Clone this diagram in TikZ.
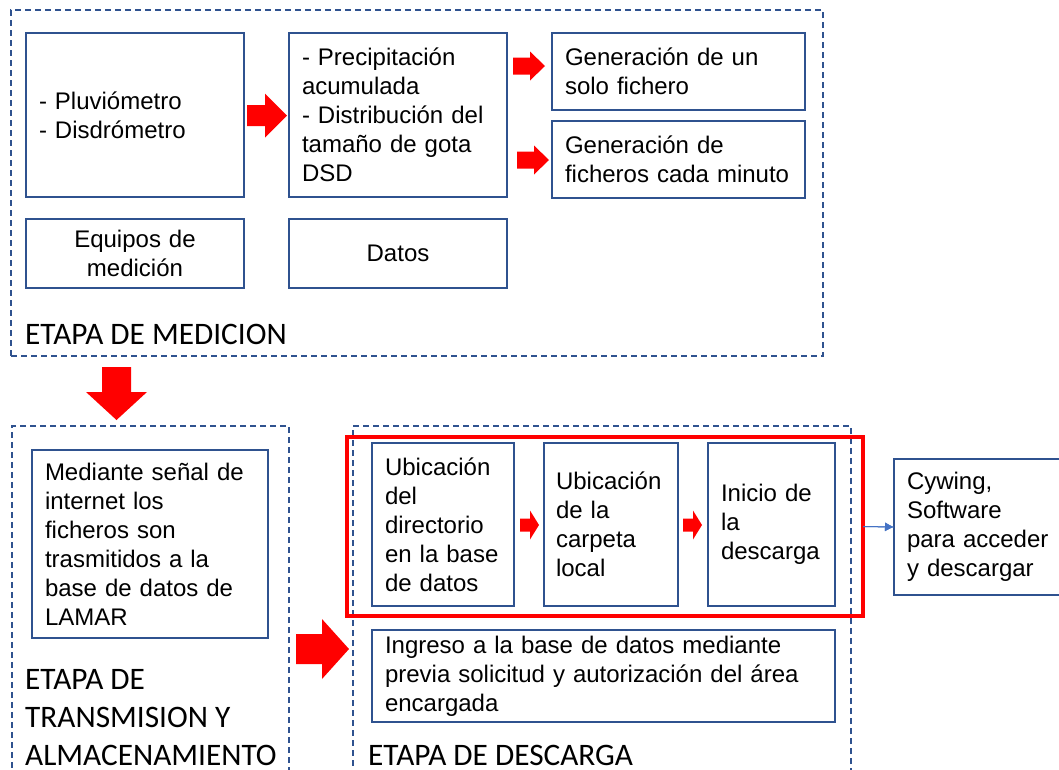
\documentclass[tikz,border=0pt]{standalone}
\usepackage{fontspec}
\setmainfont{Liberation Sans}
\newfontfamily\etapafont{Carlito}
\usepackage{tikz}
\usetikzlibrary{positioning,arrows,arrows.meta}
\definecolor{azulcaja}{HTML}{2F528F}
\definecolor{azulflecha}{HTML}{4472C4}
% flecha de bloque: opciones, largo cuerpo, largo punta, medio ancho cuerpo, medio ancho punta
\newcommand{\flecha}[5]{\fill[roja,#1] (0,-#4) -- (#2,-#4) -- (#2,-#5) -- (#2+#3,0) -- (#2,#5) -- (#2,#4) -- (0,#4) -- cycle;}

\begin{document}
\begin{tikzpicture}[
	x=1pt,y=-1pt,
	caja/.style={
		draw=azulcaja,
		line width=1.5pt,
		anchor=north west,
		inner xsep=13pt,
		inner ysep=0pt,
		outer sep=0pt,
		align=left,
		font=\fontsize{24}{29}\selectfont
	},
	etapa/.style={
		draw=azulcaja,
		line width=1.3pt,
		dash pattern=on 6pt off 4pt,
		anchor=north west,
		inner sep=0pt,
		outer sep=0pt
	},
	titulo/.style={
		anchor=base west,
		inner sep=0pt,
		align=left,
		font=\etapafont\fontsize{31.3}{38}\selectfont
	},
	marco/.style={
		draw=red,
		line width=4pt,
		anchor=north west,
		inner sep=0pt,
		outer sep=0pt
	},
	roja/.style={fill=red},
	>=latex
	]
	\useasboundingbox (0,0) rectangle (1059,769);
	% etapas
	\node[etapa, minimum width=812, minimum height=346] (medicion) at (11,10) {};
	\node[etapa, minimum width=277, minimum height=400] (transmision) at (12,426) {};
	\node[etapa, minimum width=498, minimum height=400] (descarga) at (353,426) {};
	\node[marco, minimum width=516, minimum height=179] (rojo) at (347,437) {};
	\node[titulo] (tmedicion) at (25,344) {ETAPA DE MEDICION};
	\node[titulo] (ttransmision) at (25,765) {ETAPA DE\\TRANSMISION Y\\ALMACENAMIENTO};
	\node[titulo] (tdescarga) at (368,765) {ETAPA DE DESCARGA};
	% etapa de medicion
	\node[caja, minimum width=218, minimum height=164, text width=192] (equipos) at (26,33) {- Pluviómetro\\- Disdrómetro};
	\node[caja, minimum width=218, minimum height=164, text width=192] (datos) at (289,33) {- Precipitación\\acumulada\\- Distribución del\\tamaño de gota\\DSD};
	\node[caja, minimum width=253, minimum height=77, text width=227] (unfichero) at (552,33) {Generación de un\\solo fichero};
	\node[caja, minimum width=253, minimum height=77, text width=227] (cadaminuto) at (552,121) {Generación de\\ficheros cada minuto};
	\node[caja, minimum width=218, minimum height=69, text width=192, align=center] (tequipos) at (26,219) {Equipos de\\medición};
	\node[caja, minimum width=218, minimum height=69, text width=192, align=center] (tdatos) at (289,219) {Datos};
	% etapa de transmision
	\node[caja, minimum width=236, minimum height=188, text width=210] (senal) at (32,450) {Mediante señal de\\internet los\\ficheros son\\trasmitidos a la\\base de datos de\\LAMAR};
	% etapa de descarga
	\node[caja, minimum width=142, minimum height=163, text width=116] (directorio) at (372,443) {Ubicación\\del\\directorio\\en la base\\de datos};
	\node[caja, minimum width=134, minimum height=163, text width=110, inner xsep=12pt] (carpeta) at (544,443) {Ubicación\\de la\\carpeta\\local};
	\node[caja, minimum width=127, minimum height=163, text width=101] (inicio) at (708,443) {Inicio de\\la\\descarga};
	\node[caja, minimum width=463, minimum height=92, text width=437] (ingreso) at (372,630) {Ingreso a la base de datos mediante\\previa solicitud y autorización del área\\encargada};
	\node[caja, minimum width=200, minimum height=136, text width=174] (cywing) at (894,459) {Cywing,\\Software\\para acceder\\y descargar};
	% flechas
	\flecha{shift={(247,115.5)}}{18}{22}{10.5}{22}
	\flecha{shift={(513,66)}}{17}{15}{8.5}{14.5}
	\flecha{shift={(517,160)}}{17}{15}{8.5}{14.5}
	\flecha{shift={(116.5,367)},rotate=-90}{25}{28}{14.5}{30.5}
	\flecha{shift={(296,649)}}{26}{27}{15}{30}
	\foreach \xa in {520,683}
		\flecha{shift={(\xa,525)}}{10}{9}{6.5}{14.5}
	\draw[-{Latex[length=9pt,width=9pt]}, azulflecha, line width=1pt] (rojo.east) -- (cywing.west);
\end{tikzpicture}
\end{document}
